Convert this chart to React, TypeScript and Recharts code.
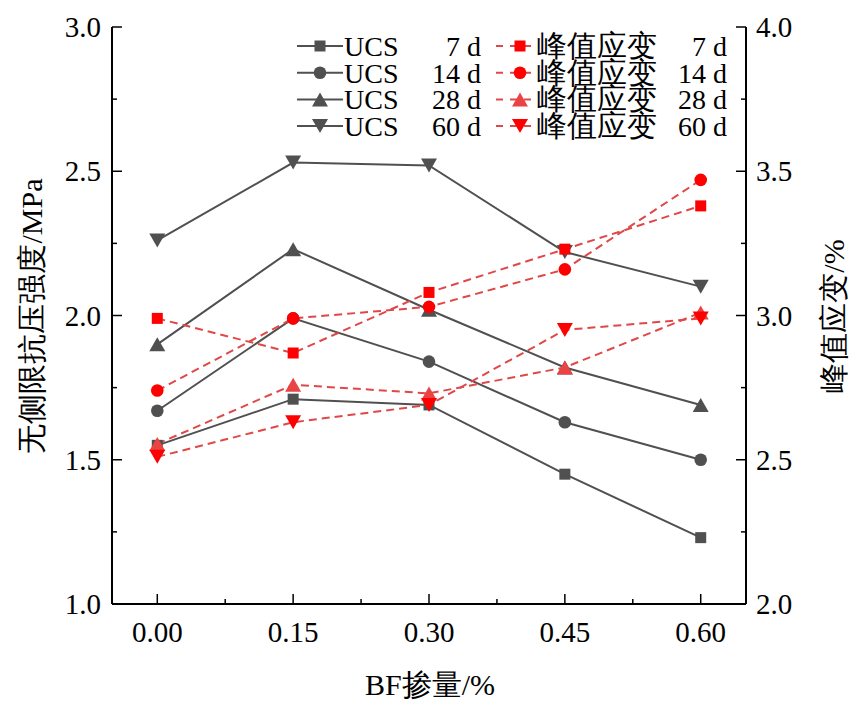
import React from 'react';
import { LineChart, Line, XAxis, YAxis } from 'recharts';

// ---- data ----
const bfContent = [0, 0.15, 0.3, 0.45, 0.6];
const ucs7 = [1.55, 1.71, 1.69, 1.45, 1.23];
const ucs14 = [1.67, 1.99, 1.84, 1.63, 1.5];
const ucs28 = [1.9, 2.23, 2.02, 1.82, 1.69];
const ucs60 = [2.26, 2.53, 2.52, 2.22, 2.1];
const strain7 = [2.99, 2.87, 3.08, 3.23, 3.38];
const strain14 = [2.74, 2.99, 3.03, 3.16, 3.47];
const strain28 = [2.555, 2.76, 2.73, 2.82, 3.01];
const strain60 = [2.51, 2.63, 2.69, 2.95, 2.99];

const xTicks = [0, 0.075, 0.15, 0.225, 0.3, 0.375, 0.45, 0.525, 0.6];
const xMajorLabels = ['0.00', '0.15', '0.30', '0.45', '0.60'];
const leftTicks = [1.0, 1.25, 1.5, 1.75, 2.0, 2.25, 2.5, 2.75, 3.0];
const rightTicks = [2.0, 2.25, 2.5, 2.75, 3.0, 3.25, 3.5, 3.75, 4.0];

const xTitle = 'BF掺量/%';
const leftTitle = '无侧限抗压强度/MPa';
const rightTitle = '峰值应变/%';

const ucsName = 'UCS';
const strainName = '峰值应变';
const ageLabels = ['7 d', '14 d', '28 d', '60 d'];

const data = bfContent.map((x, i) => ({
  x,
  ucs7: ucs7[i],
  ucs14: ucs14[i],
  ucs28: ucs28[i],
  ucs60: ucs60[i],
  strain7: strain7[i],
  strain14: strain14[i],
  strain28: strain28[i],
  strain60: strain60[i],
}));

// text inherits the page's default serif font (Times-like)
const txt = (size: number) => ({ fontSize: size });
const GRAY = '#505050';
const RED = '#ff0000';
const RED_LIGHT = '#ea4343';
const RED_LINE = '#e04848';

type Shape = 'square' | 'circle' | 'up' | 'down';

const ucsSeries: { key: string; shape: Shape; fill: string }[] = [
  { key: 'ucs7', shape: 'square', fill: GRAY },
  { key: 'ucs14', shape: 'circle', fill: GRAY },
  { key: 'ucs28', shape: 'up', fill: GRAY },
  { key: 'ucs60', shape: 'down', fill: GRAY },
];
const strainSeries: { key: string; shape: Shape; fill: string }[] = [
  { key: 'strain7', shape: 'square', fill: RED },
  { key: 'strain14', shape: 'circle', fill: RED },
  { key: 'strain28', shape: 'up', fill: RED_LIGHT },
  { key: 'strain60', shape: 'down', fill: RED },
];

const Marker = ({ cx, cy, shape, fill }: { cx: number; cy: number; shape: Shape; fill: string }) => {
  if (cx == null || cy == null) return null;
  if (shape === 'square') return <rect x={cx - 5.5} y={cy - 5.5} width={11} height={11} fill={fill} />;
  if (shape === 'circle') return <circle cx={cx} cy={cy} r={6.3} fill={fill} />;
  if (shape === 'up')
    return <polygon points={`${cx},${cy - 7} ${cx - 8},${cy + 7} ${cx + 8},${cy + 7}`} fill={fill} />;
  return <polygon points={`${cx - 8},${cy - 7} ${cx + 8},${cy - 7} ${cx},${cy + 7}`} fill={fill} />;
};

const isMajor = (v: number, step: number) => Math.abs(v / step - Math.round(v / step)) < 1e-6;

const LeftTick = (props: any) => {
  const { x, y, payload } = props;
  const v = payload.value as number;
  const major = isMajor(v, 0.5);
  return (
    <g>
      <line x1={x} x2={x + (major ? 10 : 5)} y1={y} y2={y} stroke="#000" strokeWidth={1.5} />
      {major && (
        <text x={x - 11} y={y} dy="0.35em" textAnchor="end" fill="#000" style={txt(29)}>
          {v.toFixed(1)}
        </text>
      )}
    </g>
  );
};

const RightTick = (props: any) => {
  const { x, y, payload } = props;
  const v = payload.value as number;
  const major = isMajor(v, 0.5);
  return (
    <g>
      <line x1={x} x2={x - (major ? 10 : 5)} y1={y} y2={y} stroke="#000" strokeWidth={1.5} />
      {major && (
        <text x={x + 10} y={y} dy="0.35em" textAnchor="start" fill="#000" style={txt(29)}>
          {v.toFixed(1)}
        </text>
      )}
    </g>
  );
};

const BottomTick = (props: any) => {
  const { x, y, index } = props;
  const major = index % 2 === 0;
  return (
    <g>
      <line x1={x} x2={x} y1={y} y2={y - (major ? 10 : 5)} stroke="#000" strokeWidth={1.5} />
      {major && (
        <text x={x} y={y + 38} textAnchor="middle" fill="#000" style={txt(29)}>
          {xMajorLabels[index / 2]}
        </text>
      )}
    </g>
  );
};

const LegendOverlay = () => {
  const rowY = [56, 82.7, 109.4, 136];
  return (
    <svg width={857} height={709} style={{ position: 'absolute', left: 0, top: 0, pointerEvents: 'none' }}>
      {ucsSeries.map((s, i) => (
        <g key={s.key}>
          <line x1={297} x2={343} y1={rowY[i] - 10} y2={rowY[i] - 10} stroke={GRAY} strokeWidth={2} />
          <Marker cx={320} cy={rowY[i] - 10} shape={s.shape} fill={s.fill} />
          <text x={344} y={rowY[i]} fill="#000" style={txt(28)}>
            {ucsName}
          </text>
          <text x={481} y={rowY[i]} fill="#000" style={txt(28)} textAnchor="end">
            {ageLabels[i]}
          </text>
        </g>
      ))}
      {strainSeries.map((s, i) => (
        <g key={s.key}>
          <line
            x1={496}
            x2={536}
            y1={rowY[i] - 10}
            y2={rowY[i] - 10}
            stroke={RED_LINE}
            strokeWidth={2}
            strokeDasharray="7 7"
          />
          <Marker cx={520} cy={rowY[i] - 10} shape={s.shape} fill={s.fill} />
          <text x={537} y={rowY[i]} fill="#000" style={txt(30)}>
            {strainName}
          </text>
          <text x={727} y={rowY[i]} fill="#000" style={txt(28)} textAnchor="end">
            {ageLabels[i]}
          </text>
        </g>
      ))}
      <text x={430} y={695} textAnchor="middle" fill="#000" style={txt(30)}>
        {xTitle}
      </text>
      <text x={0} y={0} transform="translate(42,316) rotate(-90)" textAnchor="middle" fill="#000" style={txt(30)}>
        {leftTitle}
      </text>
      <text x={0} y={0} transform="translate(844,316) rotate(-90)" textAnchor="middle" fill="#000" style={txt(30)}>
        {rightTitle}
      </text>
    </svg>
  );
};

export default function App() {
  return (
    <div style={{ position: 'absolute', left: 0, top: 0, width: 857, height: 709, background: '#fff' }}>
      <LineChart width={857} height={709} data={data} margin={{ top: 27, right: 0, bottom: 0, left: 0 }}>
        <XAxis
          dataKey="x"
          type="number"
          domain={[-0.05, 0.65]}
          allowDataOverflow
          ticks={xTicks}
          interval={0}
          height={105}
          tickSize={0}
          tickMargin={0}
          tickLine={false}
          axisLine={{ stroke: '#000', strokeWidth: 2 }}
          tick={BottomTick}
        />
        <YAxis
          yAxisId="left"
          orientation="left"
          type="number"
          domain={[1, 3]}
          allowDataOverflow
          ticks={leftTicks}
          interval={0}
          width={112}
          tickSize={0}
          tickMargin={0}
          tickLine={false}
          axisLine={{ stroke: '#000', strokeWidth: 2 }}
          tick={LeftTick}
        />
        <YAxis
          yAxisId="right"
          orientation="right"
          type="number"
          domain={[2, 4]}
          allowDataOverflow
          ticks={rightTicks}
          interval={0}
          width={111}
          tickSize={0}
          tickMargin={0}
          tickLine={false}
          axisLine={{ stroke: '#000', strokeWidth: 2 }}
          tick={RightTick}
        />
        {ucsSeries.map((s) => (
          <Line
            key={s.key}
            yAxisId="left"
            dataKey={s.key}
            type="linear"
            stroke={GRAY}
            strokeWidth={2}
            isAnimationActive={false}
            activeDot={false}
            dot={(p: any) => <Marker key={`${s.key}-${p.index}`} cx={p.cx} cy={p.cy} shape={s.shape} fill={s.fill} />}
          />
        ))}
        {strainSeries.map((s) => (
          <Line
            key={s.key}
            yAxisId="right"
            dataKey={s.key}
            type="linear"
            stroke={RED_LINE}
            strokeWidth={2}
            strokeDasharray="8 5"
            isAnimationActive={false}
            activeDot={false}
            dot={(p: any) => <Marker key={`${s.key}-${p.index}`} cx={p.cx} cy={p.cy} shape={s.shape} fill={s.fill} />}
          />
        ))}
      </LineChart>
      <LegendOverlay />
    </div>
  );
}
